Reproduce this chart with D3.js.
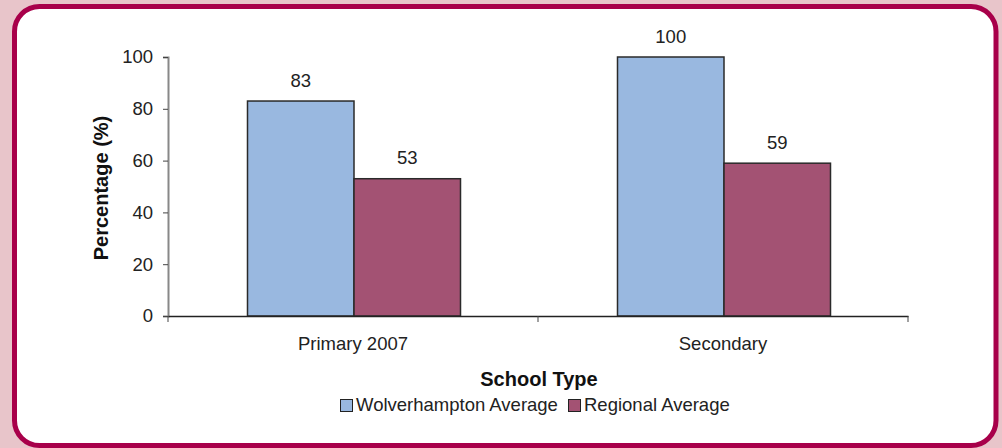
<!DOCTYPE html>
<html><head><meta charset="utf-8">
<script src="https://cdn.jsdelivr.net/npm/d3@7"></script>
<style>html,body{margin:0;padding:0;background:#e8c5ca;}svg{display:block;font-family:"Liberation Sans",Arial,sans-serif;}</style>
</head><body>
<svg id="c" width="1002" height="448"></svg>
<script>
const categories = ["Primary 2007", "Secondary"];
const seriesNames = ["Wolverhampton Average", "Regional Average"];
const wolverhampton = [83, 100];
const regional = [53, 59];
const yTicks = [0, 20, 40, 60, 80, 100];
const colors = ["#99b8e0", "#a35273"];

const FS = 18.5;
const svg = d3.select("#c");
svg.append("rect").attr("x",0).attr("y",0).attr("width",1002).attr("height",448).attr("fill","#e8c5ca");
svg.append("rect").attr("x",14.5).attr("y",6.5).attr("width",981.5).attr("height",439).attr("rx",25).attr("ry",25)
  .attr("fill","#fff").attr("stroke","#a8004a").attr("stroke-width",5);

const x0 = d3.scaleBand().domain(categories).range([168, 908]).paddingInner(0).paddingOuter(0);
const y = d3.scaleLinear().domain([0, 100]).range([316, 57]);
const groupW = 213;
const x1 = d3.scaleBand().domain(seriesNames).range([0, groupW]);

const data = categories.map((c, i) => ({cat: c, vals: [wolverhampton[i], regional[i]]}));

// y axis
const yAxis = svg.append("g").attr("transform","translate(168,0)")
  .call(d3.axisLeft(y).tickValues(yTicks).tickSize(5).tickPadding(10));
yAxis.select(".domain").attr("stroke","#888").attr("stroke-width",2);
yAxis.selectAll(".tick line").attr("stroke","#444");
yAxis.selectAll("text").attr("font-size",FS).attr("fill","#222").attr("font-family","Liberation Sans, Arial, sans-serif");

// bars
const g = svg.append("g");
data.forEach(d => {
  const gx = x0(d.cat) + (x0.bandwidth() - groupW) / 2 + 1;
  d.vals.forEach((v, j) => {
    const bx = gx + x1(seriesNames[j]);
    g.append("rect").attr("x", bx).attr("y", y(v)).attr("width", x1.bandwidth()).attr("height", y(0) - y(v))
      .attr("fill", colors[j]).attr("stroke", "#2a2a2a").attr("stroke-width", 1.5);
    g.append("text").attr("x", bx + x1.bandwidth()/2).attr("y", y(v) - 14.5).attr("text-anchor","middle")
      .attr("font-size",FS).attr("fill","#222").text(v);
  });
});

// x axis
const xAxis = svg.append("g").attr("transform","translate(0,316)")
  .call(d3.axisBottom(x0).tickSize(0).tickPadding(21));
xAxis.select(".domain").attr("stroke","#222").attr("stroke-width",1.5);
xAxis.selectAll("text").attr("font-size",FS).attr("fill","#222").attr("font-family","Liberation Sans, Arial, sans-serif");
const xt = [x0.range()[0], ...categories.slice(1).map(c => x0(c)), x0.range()[1]];
svg.append("g").selectAll("line").data(xt).join("line")
  .attr("x1", d => d).attr("x2", d => d).attr("y1", 316).attr("y2", 322).attr("stroke","#444").attr("stroke-width",1);

// axis titles
svg.append("text").attr("x", 539).attr("y", 386).attr("text-anchor","middle").attr("font-size",20).attr("font-weight","bold").attr("fill","#111").text("School Type");
svg.append("text").attr("transform","translate(108,188) rotate(-90)").attr("text-anchor","middle").attr("font-size",20).attr("font-weight","bold").attr("fill","#111").text("Percentage (%)");

// legend
const leg = svg.append("g");
const legItems = [{x:340, name: seriesNames[0], c: colors[0]}, {x:568, name: seriesNames[1], c: colors[1]}];
legItems.forEach(it => {
  leg.append("rect").attr("x", it.x + 0.5).attr("y", 399.5).attr("width", 12).attr("height", 12).attr("fill", it.c).attr("stroke","#222").attr("stroke-width",1);
  leg.append("text").attr("x", it.x + 16).attr("y", 411).attr("font-size",FS).attr("fill","#222").text(it.name);
});
</script>
</body></html>
